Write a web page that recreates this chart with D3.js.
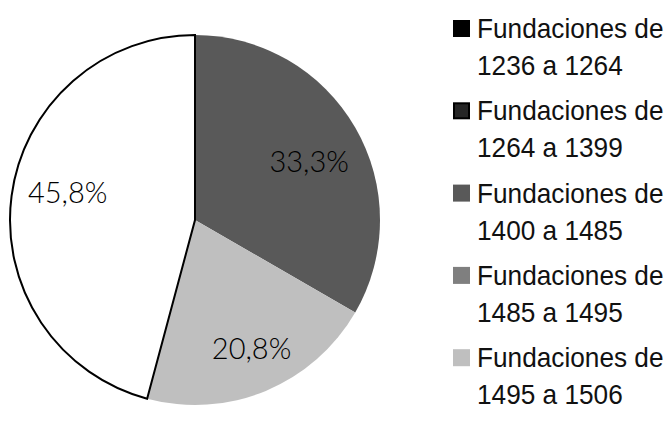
<!DOCTYPE html>
<meta charset="utf-8">
<head>
<title>Fundaciones</title>
<style>
body {
    margin: 0;
    background-color: #FFF;
}
.pct {
    font-family: 'Lato', 'DejaVu Sans', sans-serif;
    font-weight: 300;
    font-size: 29px;
    fill: #000;
}
.legend text {
    font-family: 'Liberation Sans', Arial, sans-serif;
    font-size: 28.5px;
    fill: #111;
}
</style>
</head>
<body>
<script src="https://cdn.jsdelivr.net/npm/d3@7"></script>
<script>

var categories = ["Fundaciones de 1236 a 1264",
                  "Fundaciones de 1264 a 1399",
                  "Fundaciones de 1400 a 1485",
                  "Fundaciones de 1485 a 1495",
                  "Fundaciones de 1495 a 1506",
                  "Fundaciones de 1506"];
// number of foundations per period (8/24, 5/24, 11/24)
var counts = [0, 0, 8, 0, 5, 11];
var colors = ["#000000", "#262626", "#595959", "#7f7f7f", "#bfbfbf", "#ffffff"];

var width = 666, height = 427;
var cx = 195, cy = 220, r = 185;
// small nudges of the % labels off the centroid (like excel's best fit)
var labelNudge = [[0, 0], [0, 0], [2, 7], [0, 0], [7, 9], [1, -10]];

var svg = d3.select("body").append("svg")
            .attr("width", width)
            .attr("height", height);

var total = d3.sum(counts);
var data = categories.map(function(c, i){ return {name: c, value: counts[i], color: colors[i], idx: i}; });

var pie = d3.pie().sort(null).value(function(d){ return d.value; });
var arc = d3.arc().innerRadius(0).outerRadius(r);
var labelArc = d3.arc().innerRadius(r * 0.7).outerRadius(r * 0.7);

var g = svg.append("g").attr("transform", "translate(" + cx + "," + cy + ")");
var arcs = pie(data).filter(function(d){ return d.value > 0; });

g.selectAll("path")
 .data(arcs)
 .enter().append("path")
 .attr("d", arc)
 .attr("fill", function(d){ return d.data.color; })
 .attr("stroke", function(d){ return d.data.color == "#ffffff" ? "#000" : "none"; })
 .attr("stroke-width", 2)
 .attr("stroke-linejoin", "miter");

var fmt = function(v){ return d3.format(".1f")(v * 100 / total).replace(".", ",") + "%"; };

g.selectAll("text.pct")
 .data(arcs)
 .enter().append("text")
 .attr("class", "pct")
 .attr("text-anchor", "middle")
 .attr("dy", "0.35em")
 .attr("transform", function(d){
     var c = labelArc.centroid(d), n = labelNudge[d.data.idx];
     return "translate(" + (c[0] + n[0]) + "," + (c[1] + n[1]) + ")";
 })
 .text(function(d){ return fmt(d.value); });

// legend (the last entry falls outside the chart area, like in the original)
var legY = d3.scaleLinear().domain([0, 1]).range([38, 120.3]);
var legData = data.filter(function(d, i){ return legY(i) + 37 < height; });
var leg = svg.append("g").attr("class", "legend")
             .selectAll("g")
             .data(legData)
             .enter().append("g")
             .attr("transform", function(d, i){ return "translate(453," + legY(i) + ")"; });

leg.append("rect")
   .attr("x", function(d, i){ return i == 1 ? 1 : 0; })
   .attr("y", function(d, i){ return i == 1 ? -17 : -18; })
   .attr("width", function(d, i){ return i == 1 ? 15 : 17; })
   .attr("height", function(d, i){ return i == 1 ? 15 : 17; })
   .attr("fill", function(d){ return d.color; })
   .attr("stroke", function(d, i){ return i == 1 ? "#000" : "none"; })
   .attr("stroke-width", 2);

leg.each(function(d){
    var words = d.name.split(" ");
    var t = d3.select(this).append("text").attr("transform", "translate(24,0) scale(0.92,1)");
    t.append("tspan").attr("x", 0).attr("y", 0).text(words.slice(0, 2).join(" "));
    t.append("tspan").attr("x", 0).attr("y", 37).text(words.slice(2).join(" "));
});

</script>
</body>
